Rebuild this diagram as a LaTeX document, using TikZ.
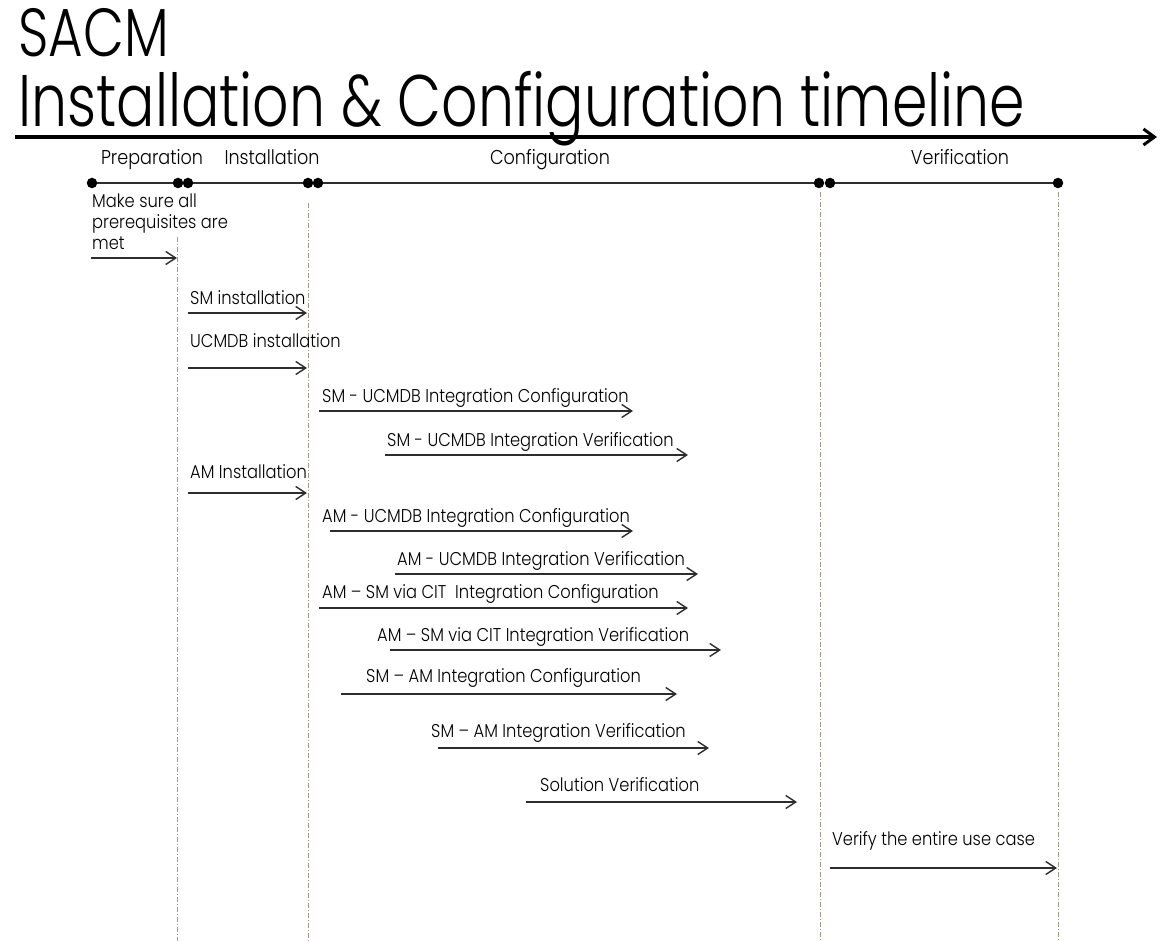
\documentclass[tikz,border=0pt]{standalone}
\usepackage{fontspec}
\usetikzlibrary{arrows.meta}
\setmainfont{Poppins}[UprightFont=* Light, FakeStretch=0.88]
\newfontfamily\titlefont{Poppins}[UprightFont=* Light, FakeStretch=0.78]

\definecolor{guidegray}{RGB}{160,155,135}
\definecolor{arrowgray}{RGB}{45,45,45}

\tikzstyle{milestone}=[circle, fill, inner sep=0pt, minimum size=10.5pt]
\tikzstyle{phase}=[anchor=base, inner sep=0pt, font=\fontsize{20}{20}\selectfont]
\tikzstyle{task}=[anchor=base west, inner sep=0pt, font=\fontsize{18.5}{21}\selectfont]
\tikzstyle{flow}=[-{Straight Barb[length=10pt,width=13pt]}, line width=1.4pt, draw=arrowgray]
\tikzstyle{guide}=[draw=guidegray, line width=0.9pt, dash pattern=on 5pt off 2pt on 1pt off 2pt]

\begin{document}
\begin{tikzpicture}[x=1pt, y=-1pt]
\useasboundingbox (0,0) rectangle (1161,941);

% title and time axis
\node[anchor=base west, inner sep=0pt, font=\titlefont\fontsize{68}{68}\selectfont] (sacm) at (18,57) {SACM};
\node[anchor=base west, inner sep=0pt, font=\titlefont\fontsize{73}{73}\selectfont] (title) at (18,127) {Installation \& Configuration timeline};
\coordinate (axisL) at (15,137);
\coordinate (axisR) at (1157,137);
\draw[line width=3.5pt, -{Straight Barb[length=11pt,width=16pt,line width=3pt]}] (axisL) -- (axisR);

% phases
\node[phase] (prep) at (152,165) {Preparation};
\node[phase] (inst) at (272,165) {Installation};
\node[phase] (conf) at (550,165) {Configuration};
\node[phase] (verif) at (960,165) {Verification};

\node[milestone] (p0) at (92,183) {};
\node[milestone] (p1) at (178,183) {};
\node[milestone] (p2) at (188,183) {};
\node[milestone] (i1) at (308,183) {};
\node[milestone] (i2) at (318,183) {};
\node[milestone] (c1) at (819,183) {};
\node[milestone] (c2) at (830,183) {};
\node[milestone] (v1) at (1058,183) {};

\begin{scope}[every path/.style={line width=1.2pt, draw=arrowgray}]
       \draw (p0) -- (p1);
       \draw (p2) -- (i1);
       \draw (i2) -- (c1);
       \draw (c2) -- (v1);
\end{scope}

\draw[guide] (177,237) -- (177,941);
\draw[guide] (308,203) -- (308,941);
\draw[guide] (820,192) -- (820,941);
\draw[guide] (1058,192) -- (1058,941);

% tasks
\node[task, anchor=north west, align=left] (t1) at (92,194) {Make sure all\\prerequisites are\\met};
\coordinate (t1a) at (91,258);   \coordinate (t1b) at (177,258);
\node[task] (t2) at (190,304) {SM installation};
\coordinate (t2a) at (188,313);  \coordinate (t2b) at (307,313);
\node[task] (t3) at (190,347) {UCMDB installation};
\coordinate (t3a) at (188,368);  \coordinate (t3b) at (307,368);
\node[task] (t4) at (322,402) {SM - UCMDB Integration Configuration};
\coordinate (t4a) at (319,411);  \coordinate (t4b) at (633,411);
\node[task] (t5) at (387,446) {SM - UCMDB Integration Verification};
\coordinate (t5a) at (385,455);  \coordinate (t5b) at (688,455);
\node[task] (t6) at (190,478) {AM Installation};
\coordinate (t6a) at (188,493);  \coordinate (t6b) at (307,493);
\node[task] (t7) at (322,522) {AM - UCMDB Integration Configuration};
\coordinate (t7a) at (330,531);  \coordinate (t7b) at (633,531);
\node[task] (t8) at (397,565) {AM - UCMDB Integration Verification};
\coordinate (t8a) at (395,574);  \coordinate (t8b) at (698,574);
\node[task] (t9) at (322,598) {AM -- SM via CIT\ \ Integration Configuration};
\coordinate (t9a) at (319,608);  \coordinate (t9b) at (688,608);
\node[task] (t10) at (377,641) {AM -- SM via CIT Integration Verification};
\coordinate (t10a) at (390,650); \coordinate (t10b) at (721,650);
\node[task] (t11) at (366,682) {SM -- AM Integration Configuration};
\coordinate (t11a) at (341,694); \coordinate (t11b) at (677,694);
\node[task] (t12) at (431,737) {SM -- AM Integration Verification};
\coordinate (t12a) at (438,748); \coordinate (t12b) at (709,748);
\node[task] (t13) at (540,791) {Solution Verification};
\coordinate (t13a) at (526,802); \coordinate (t13b) at (797,802);
\node[task] (t14) at (832,845) {Verify the entire use case};
\coordinate (t14a) at (830,868); \coordinate (t14b) at (1057,868);

\foreach \t in {t1,t2,t3,t4,t5,t6,t7,t8,t9,t10,t11,t12,t13,t14}
       \draw[flow] (\t a) -- (\t b);
\end{tikzpicture}
\end{document}
